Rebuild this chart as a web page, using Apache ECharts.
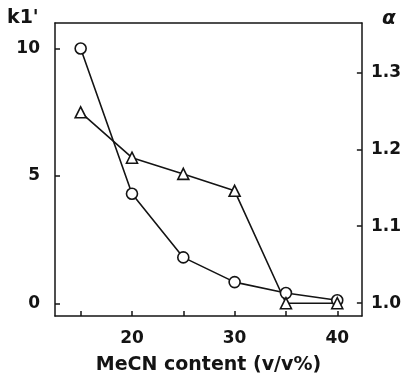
<!DOCTYPE html>
<html><head><meta charset="utf-8">
<script src="https://cdn.jsdelivr.net/npm/echarts@6/dist/echarts.min.js"></script>
<style>html,body{margin:0;padding:0;background:#fff}#c{width:404px;height:380px}</style>
</head><body><div id="c"></div>
<script>
const mecn = [15, 20, 25, 30, 35, 40];
const k1 = [10.0, 4.3, 1.8, 0.83, 0.4, 0.12];
const alpha = [1.248, 1.189, 1.168, 1.146, 1.0, 1.0];
const xTicks = [15, 20, 25, 30, 35, 40];
const xLabels = [20, 30, 40];
const kTicks = [0, 5, 10];
const aTicks = [1.0, 1.1, 1.2, 1.3];

const ink = '#141414';
const font = 'DejaVu Sans';
const chart = echarts.init(document.getElementById('c'), null, {renderer: 'canvas'});
chart.setOption({
  animation: false,
  backgroundColor: '#fff',
  grid: {left: 55, right: 41, top: 23, bottom: 64},
  xAxis: [{
    type: 'value', min: 12.5, max: 42.4,
    name: 'MeCN content (v/v%)', nameLocation: 'middle', nameGap: 40,
    nameTextStyle: {fontFamily: font, fontSize: 19, fontWeight: 'bold', color: ink},
    axisLine: {onZero: false, lineStyle: {color: ink, width: 1.5}},
    axisTick: {inside: true, length: 5, customValues: xTicks, lineStyle: {color: ink, width: 1.5}},
    axisLabel: {customValues: xLabels, margin: 14, fontFamily: font, fontSize: 17, fontWeight: 'bold', color: ink},
    splitLine: {show: false}
  }, {
    type: 'value', position: 'top', min: 12.5, max: 42.4,
    axisLine: {show: true, onZero: false, lineStyle: {color: ink, width: 1.5}},
    axisTick: {show: false}, axisLabel: {show: false}, splitLine: {show: false}
  }],
  yAxis: [{
    type: 'value', min: -0.5, max: 11,
    axisLine: {show: true, onZero: false, lineStyle: {color: ink, width: 1.5}},
    axisTick: {inside: true, length: 5, customValues: kTicks, lineStyle: {color: ink, width: 1.5}},
    axisLabel: {customValues: kTicks, margin: 15, fontFamily: font, fontSize: 17, fontWeight: 'bold', color: ink},
    splitLine: {show: false}
  }, {
    type: 'value', position: 'right', min: 0.9834, max: 1.364,
    axisLine: {show: true, onZero: false, lineStyle: {color: ink, width: 1.5}},
    axisTick: {inside: true, length: 5, customValues: aTicks, lineStyle: {color: ink, width: 1.5}},
    axisLabel: {customValues: aTicks, margin: 9, fontFamily: font, fontSize: 17, fontWeight: 'bold', color: ink,
      formatter: v => v.toFixed(1)},
    splitLine: {show: false}
  }],
  graphic: [
    {type: 'text', left: 7, top: 9, style: {text: "k1'", font: 'bold 19px "DejaVu Sans"', fill: ink}},
    {type: 'text', left: 382, top: 9, style: {text: 'α', font: 'italic bold 20px "DejaVu Sans"', fill: ink}}
  ],
  series: [{
    type: 'line', xAxisIndex: 0, yAxisIndex: 0,
    data: mecn.map((x, i) => [x, k1[i]]),
    symbol: 'circle', symbolSize: 11,
    lineStyle: {color: ink, width: 1.6},
    itemStyle: {color: '#fff', borderColor: ink, borderWidth: 1.6}
  }, {
    type: 'line', xAxisIndex: 0, yAxisIndex: 1,
    data: mecn.map((x, i) => [x, alpha[i]]),
    symbol: 'triangle', symbolSize: 11,
    lineStyle: {color: ink, width: 1.6},
    itemStyle: {color: '#fff', borderColor: ink, borderWidth: 1.6}
  }]
});
</script></body></html>
